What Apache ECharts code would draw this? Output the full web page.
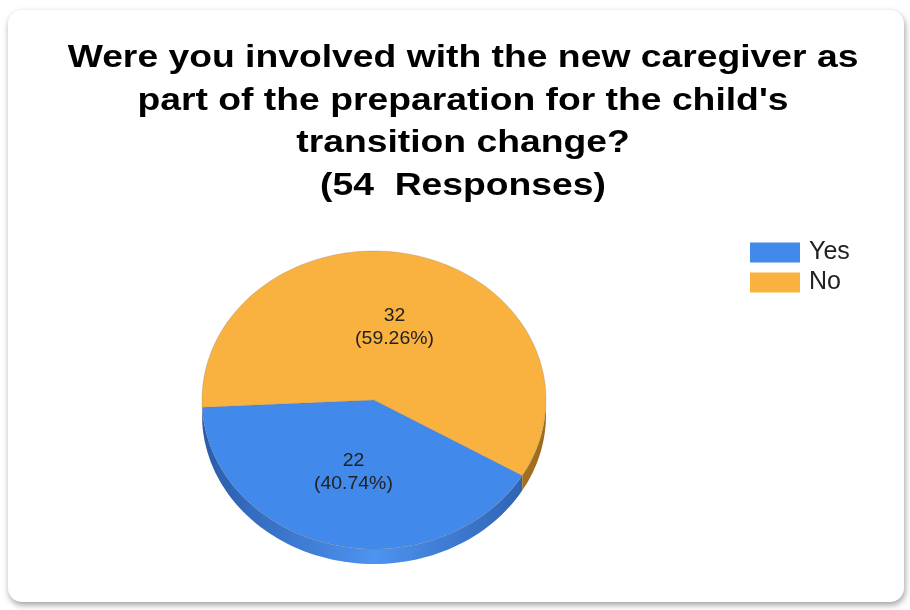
<!DOCTYPE html>
<html>
<head>
<meta charset="utf-8">
<script src="https://cdn.jsdelivr.net/npm/echarts@6/dist/echarts.min.js"></script>
<style>
  html, body { margin: 0; padding: 0; background: #ffffff; }
  #chart { width: 910px; height: 610px; }
</style>
</head>
<body>
<div id="chart"></div>
<script>
// Survey answers
const categories = ['Yes', 'No'];
const values = [22, 32];
const titleLines = [
  'Were you involved with the new caregiver as',
  "part of the preparation for the child's",
  'transition change?',
  '(54  Responses)'
];

// Appearance
const FONT = '"Liberation Sans", Arial, sans-serif';
const topColors = ['#4189ea', '#f9b13f'];
const sideDark = ['#2a5cab', '#9c6a1c'];
const sideLight = ['#4d93f0', '#d89a32'];
const startDeg = 30.5;             // where the first slice begins, clockwise from 3 o'clock
const cx = 374, cy = 400, rx = 172, ry = 149, depth = 15;

const total = values.reduce((a, b) => a + b, 0);
const cumBefore = values.map((_, i) => values.slice(0, i).reduce((a, b) => a + b, 0));

function pt(deg, dy) {
  const t = deg * Math.PI / 180;
  return [cx + rx * Math.cos(t), cy + ry * Math.sin(t) + (dy || 0)];
}
function arc(a0, a1, dy) {
  const pts = [];
  const n = Math.max(2, Math.ceil(Math.abs(a1 - a0) / 2));
  for (let k = 0; k <= n; k++) pts.push(pt(a0 + (a1 - a0) * k / n, dy));
  return pts;
}

function makeRender(i) {
  return function (params, api) {
    const v = api.value(0);
    const before = api.value(1);
    const a0 = startDeg + before / total * 360;
    const a1 = a0 + v / total * 360;
    const children = [];
    // visible front wall (screen angles 0..180)
    for (let k = 0; k < 2; k++) {
      const lo = Math.max(a0, 360 * k), hi = Math.min(a1, 360 * k + 180);
      if (hi > lo) {
        const top = arc(lo, hi, 0);
        const bottom = arc(hi, lo, depth);
        children.push({
          type: 'polygon', z2: 1,
          shape: { points: top.concat(bottom) },
          style: {
            fill: {
              type: 'linear', x: cx - rx, y: 0, x2: cx + rx, y2: 0, global: true,
              colorStops: [
                { offset: 0, color: sideDark[i] },
                { offset: 0.5, color: sideLight[i] },
                { offset: 1, color: sideDark[i] }
              ]
            }
          }
        });
      }
    }
    // top face
    children.push({
      type: 'polygon', z2: 2,
      shape: { points: [[cx, cy]].concat(arc(a0, a1, 0)) },
      style: { fill: topColors[i], stroke: 'rgba(120,120,120,0.35)', lineWidth: 0.8 }
    });
    // value label
    const mid = (a0 + a1) / 2 * Math.PI / 180;
    const pct = (v / total * 100).toFixed(2);
    children.push({
      type: 'text', z2: 3,
      x: cx + 0.5 * rx * Math.cos(mid),
      y: cy + 0.5 * ry * Math.sin(mid),
      scaleX: 1.08,
      style: {
        text: v + '\n(' + pct + '%)',
        x: 0, y: 0,
        align: 'center', verticalAlign: 'middle',
        fontSize: 18, lineHeight: 23,
        fontFamily: FONT,
        fill: '#222222'
      }
    });
    return { type: 'group', children: children };
  };
}

const chart = echarts.init(document.getElementById('chart'), null, { renderer: 'canvas' });
chart.setOption({
  animation: false,
  backgroundColor: '#ffffff',
  graphic: [
    {
      type: 'rect', z: -10,
      shape: { x: 8, y: 10, width: 896, height: 592, r: 14 },
      style: { fill: '#ffffff', shadowBlur: 6, shadowOffsetY: 3, shadowOffsetX: 1, shadowColor: 'rgba(0,0,0,0.38)' }
    },
    {
      // chart heading, drawn a little wide like the original font rendering
      type: 'text', z: 10,
      x: 463, y: 37,
      scaleX: 1.165,
      style: {
        text: titleLines.join('\n'),
        x: 0, y: 0,
        align: 'center', verticalAlign: 'top',
        fontFamily: FONT, fontSize: 32, fontWeight: 'bold', lineHeight: 42.5,
        fill: '#000000'
      }
    }
  ],
  legend: {
    orient: 'vertical', left: 745, top: 235,
    itemWidth: 50, itemHeight: 20, itemGap: 5,
    icon: 'rect',
    data: categories,
    textStyle: { fontFamily: FONT, fontSize: 25, lineHeight: 23, color: '#222222', padding: [0, 0, 0, 4] }
  },
  series: categories.map((name, i) => ({
    type: 'custom',
    name: name,
    coordinateSystem: 'none',
    itemStyle: { color: topColors[i] },
    renderItem: makeRender(i),
    data: [[values[i], cumBefore[i]]]
  }))
});
</script>
</body>
</html>
